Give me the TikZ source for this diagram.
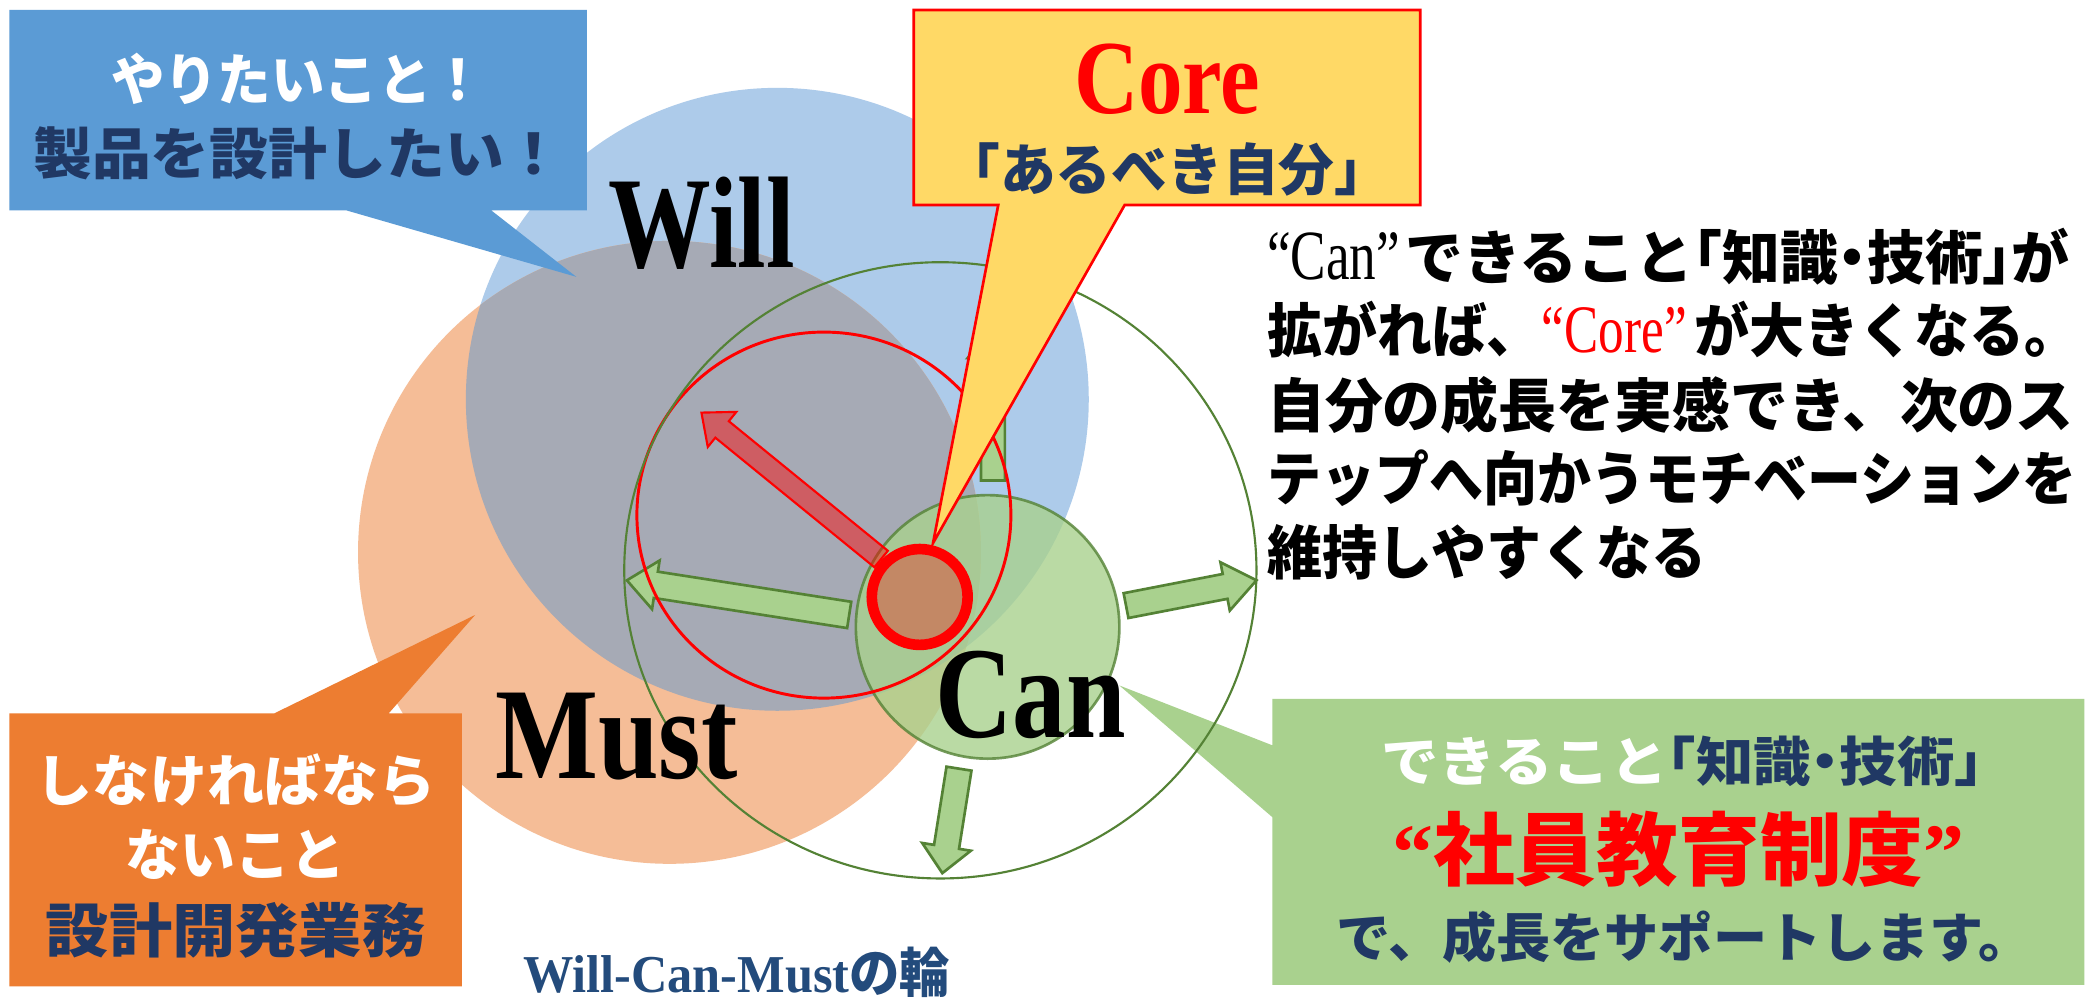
\documentclass[tikz,border=0pt]{standalone}
\usepackage{fontspec}
\usetikzlibrary{calc}
\newfontfamily\jp{Noto Sans CJK JP}
\newfontfamily\lat{Liberation Serif}
\newcommand\jpb{\jp\bfseries}
\newcommand\fitw[2]{\resizebox{#1}{\height}{#2}}
\newcommand\fs[1]{\fontsize{#1}{#1}\selectfont}
\newcommand\hw[1]{{\addfontfeature{RawFeature=+halt}#1}}
\definecolor{willblue}{HTML}{ADCBEA}
\definecolor{mustpeach}{HTML}{F5BD97}
\definecolor{overlapgray}{HTML}{A6AAB5}
\definecolor{cangreen}{HTML}{A9D18E}
\definecolor{darkgreen}{HTML}{548235}
\definecolor{calloutblue}{HTML}{5B9BD5}
\definecolor{calloutorange}{HTML}{ED7D31}
\definecolor{coreyellow}{HTML}{FFD966}
\definecolor{navy}{HTML}{203864}
\definecolor{capblue}{HTML}{234B7C}
\newcommand\fatarrow[6]{%
  \coordinate (#3-hb) at ($(#3)!#6!(#2)$);
  \draw[#1] ($(#2)!#4!90:(#3)$) -- ($(#3-hb)!#4!90:(#3)$) -- ($(#3-hb)!#5!90:(#3)$) -- (#3)
    -- ($(#3-hb)!#5!-90:(#3)$) -- ($(#3-hb)!#4!-90:(#3)$) -- ($(#2)!#4!-90:(#3)$) -- cycle;
}
\begin{document}
\begin{tikzpicture}[x=1pt,y=-1pt,
  txt/.style={inner sep=0pt, outer sep=0pt},
  garrow/.style={fill=cangreen, draw=darkgreen, line width=2pt, line join=miter},
  redarrow/.style={fill=red, fill opacity=0.45, draw=red, draw opacity=1, line width=1.6pt, line join=miter},
  calloutshape/.style={line join=miter}]
\useasboundingbox (0,0) rectangle (1568,752);
\fill[white] (0,0) rectangle (1568,752);

% centres
\coordinate (willc) at (584,300);
\coordinate (mustc) at (503,415);
\coordinate (outc) at (706.5,428.5);
\coordinate (canc) at (742,471);
\coordinate (corec) at (691,448.5);
\coordinate (redc) at (619,387);

% Will / Must circles and overlap
\fill[willblue] (willc) circle[radius=234];
\fill[mustpeach] (mustc) circle[radius=234];
\begin{scope}
  \clip (willc) circle[radius=234];
  \fill[overlapgray] (mustc) circle[radius=234];
\end{scope}

% green callout (under outer ring)
\fill[cangreen, calloutshape] (956,525) -- (1566,525) -- (1566,740) -- (956,740) -- (956,614) -- (841,515) -- (956,560) -- cycle;

% Can circle
\fill[cangreen, opacity=0.8] (canc) circle[radius=99];
\draw[darkgreen, draw opacity=0.8, line width=2pt] (canc) circle[radius=99];

% green arrows
\coordinate (la0) at (638,462); \coordinate (la1) at (471,436);
\fatarrow{garrow}{la0}{la1}{10pt}{18.5pt}{22pt}
\coordinate (ra0) at (846,455); \coordinate (ra1) at (944,436);
\fatarrow{garrow}{ra0}{ra1}{9.5pt}{18.5pt}{24pt}
\coordinate (ba0) at (720.5,577.5); \coordinate (ba1) at (708,656);
\fatarrow{garrow}{ba0}{ba1}{9.5pt}{18.5pt}{20pt}
\coordinate (ta0) at (746,361); \coordinate (ta1) at (746,245);
\fatarrow{garrow}{ta0}{ta1}{9pt}{19pt}{24pt}

% red arrow
\coordinate (rd0) at (662,420); \coordinate (rd1) at (527,310);
\fatarrow{redarrow}{rd0}{rd1}{8pt}{17pt}{20pt}

% large red circle
\draw[red, line width=2.2pt] (redc) ellipse[x radius=140.5, y radius=137.5];

% small core ring
\fill[red, opacity=0.32] (corec) circle[radius=36];
\draw[red, line width=8pt] (corec) circle[radius=36];

% outer green ring
\draw[darkgreen, line width=1.6pt] (outc) ellipse[x radius=237.5, y radius=231.5];

% callouts
\fill[calloutblue, calloutshape] (7,7.5) -- (441,7.5) -- (441,158) -- (369,158) -- (433,208) -- (260,158) -- (7,158) -- cycle;
\fill[calloutorange, calloutshape] (7,536) -- (206,536) -- (357,462) -- (292,536) -- (347,536) -- (347,741) -- (7,741) -- cycle;
\filldraw[fill=coreyellow, draw=red, line width=2pt, calloutshape] (686.5,7.5) -- (1067,7.5) -- (1067,154) -- (845,154) -- (701,408) -- (750,154) -- (686.5,154) -- cycle;

% big words
\node[txt, anchor=base] (willT) at (527,201) {\fitw{140pt}{\lat\bfseries\fs{98}Will}};
\node[txt, anchor=base] (mustT) at (463,585) {\fitw{182pt}{\lat\bfseries\fs{98}Must}};
\node[txt, anchor=base] (canT) at (774.5,554) {\fitw{143pt}{\lat\bfseries\fs{98}Can}};

% blue callout text
\node[txt, text=white] (bl1) at (224,59) {\fitw{281pt}{\jpb\fs{42}やりたいこと！}};
\node[txt, text=navy] (bl2) at (224,115) {\fitw{398pt}{\jpb\fs{42}製品を設計したい！}};

% core callout text
\node[txt, anchor=base, text=red] (coreT) at (877,85) {\fitw{140pt}{\lat\bfseries\fs{79}Core}};
\node[txt, text=navy] (coreS) at (877,127) {\fitw{335pt}{\jpb\fs{42}「あるべき自分」}};

% right block
\node[txt, anchor=base west] (r1) at (952,210) {\fitw{603pt}{\fs{44}\jpb\fitw{101pt}{\lat\mdseries\fs{53}“Can”}\hspace{4pt}できること\hw{「}知識\hw{・}技術\hw{」}が}};
\node[txt, anchor=base west] (r2) at (952,265) {\fitw{610pt}{\fs{44}\jpb 拡がれば、\fitw{116pt}{\lat\mdseries\fs{51}\color{red}“Core”}\hspace{6pt}が大きくなる。}};
\node[txt, anchor=base west] (r3) at (952,321) {\fitw{606pt}{\fs{44}\jpb 自分の成長を実感でき、次のス}};
\node[txt, anchor=base west] (r4) at (952,376) {\fitw{608pt}{\fs{44}\jpb テップへ向かうモチベーションを}};
\node[txt, anchor=base west] (r5) at (952,432) {\fitw{330pt}{\fs{44}\jpb 維持しやすくなる}};

% orange callout text
\node[txt, text=white] (o1) at (177,586) {\fitw{300pt}{\jpb\fs{42}しなければなら}};
\node[txt, text=white] (o2) at (177,642) {\fitw{165pt}{\jpb\fs{42}ないこと}};
\node[txt, text=navy] (o3) at (177,699) {\fitw{285pt}{\jpb\fs{44}設計開発業務}};

% green callout text
\node[txt] (g1) at (1264,572) {\fitw{452pt}{\jpb\fs{40}\textcolor{white}{できること}\textcolor{navy}{\hw{「}知識\hw{・}技術\hw{」}}}};
\node[txt, text=red] (g2) at (1261,638) {\fitw{430pt}{\fs{60}{\lat\bfseries “}\jpb 社員教育制度{\lat\bfseries ”}}};
\node[txt, text=navy] (g3) at (1265.5,704) {\fitw{523pt}{\jpb\fs{40}で、成長をサポートします。}};

% caption
\node[txt, anchor=base, text=capblue] (cap) at (553.5,746) {\fitw{321pt}{\fs{40}{\lat\bfseries Will-Can-Must}\jpb の輪}};
\end{tikzpicture}
\end{document}
